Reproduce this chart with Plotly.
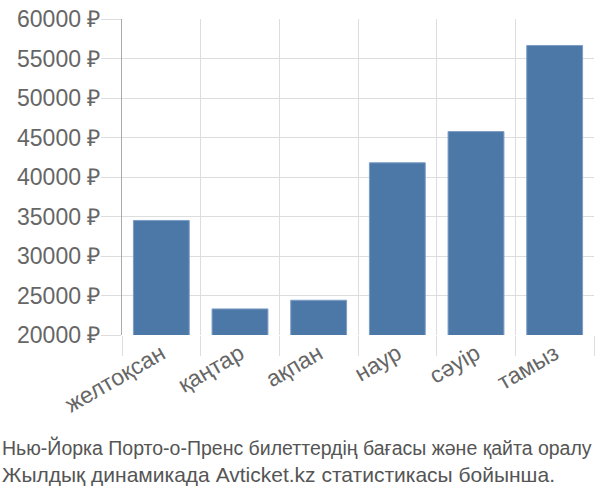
import plotly.graph_objects as go

categories = ["желтоқсан", "қаңтар", "ақпан", "наур", "сәуір", "тамыз"]
prices = [34500, 23300, 24400, 41800, 45750, 56650]
y_ticks = [20000, 25000, 30000, 35000, 40000, 45000, 50000, 55000, 60000]
y_tick_labels = [f"{v} ₽" for v in y_ticks]
title_lines = [
    "Нью-Йорка Порто-о-Пренс билеттердің бағасы және қайта оралу",
    "Жылдық динамикада Avticket.kz статистикасы бойынша.",
]

fig = go.Figure(
    go.Bar(
        x=categories,
        y=prices,
        width=0.71,
        marker=dict(color="#4c78a8", line=dict(color="#7d9dc6", width=1)),
    )
)

font_family = "Liberation Sans, Arial, sans-serif"

plot_top, plot_bottom = 14, 335
plot_h = plot_bottom - plot_top

fig.update_layout(
    width=600,
    height=500,
    margin=dict(l=122, r=6, t=plot_top, b=500 - plot_bottom),
    plot_bgcolor="white",
    paper_bgcolor="white",
    showlegend=False,
    font=dict(family=font_family, color="#666666"),
    xaxis=dict(
        type="category",
        tickson="boundaries",
        showgrid=True,
        gridcolor="#dddddd",
        gridwidth=1,
        ticks="outside",
        ticklen=20,
        tickcolor="#dddddd",
        tickangle=-30,
        tickfont=dict(size=23, color="#666666"),
        showline=False,
    ),
    yaxis=dict(
        range=[20000, 60000],
        tickvals=y_ticks,
        ticktext=y_tick_labels,
        showgrid=True,
        gridcolor="#dddddd",
        gridwidth=1,
        ticks="outside",
        ticklen=20,
        tickcolor="#dddddd",
        tickfont=dict(size=23, color="#666666"),
        ticklabelstandoff=-4,
        showline=True,
        linecolor="#aaaaaa",
        linewidth=1,
        zeroline=False,
    ),
)

for line, py, fs in zip(title_lines, [449, 477], [19.5, 21]):
    fig.add_annotation(
        text=line,
        xref="paper",
        yref="paper",
        x=-122 / 472,
        y=(plot_bottom - py) / plot_h,
        xanchor="left",
        yanchor="middle",
        align="left",
        showarrow=False,
        font=dict(size=fs, color="#555555", family=font_family),
    )

fig.write_html("out.html")
